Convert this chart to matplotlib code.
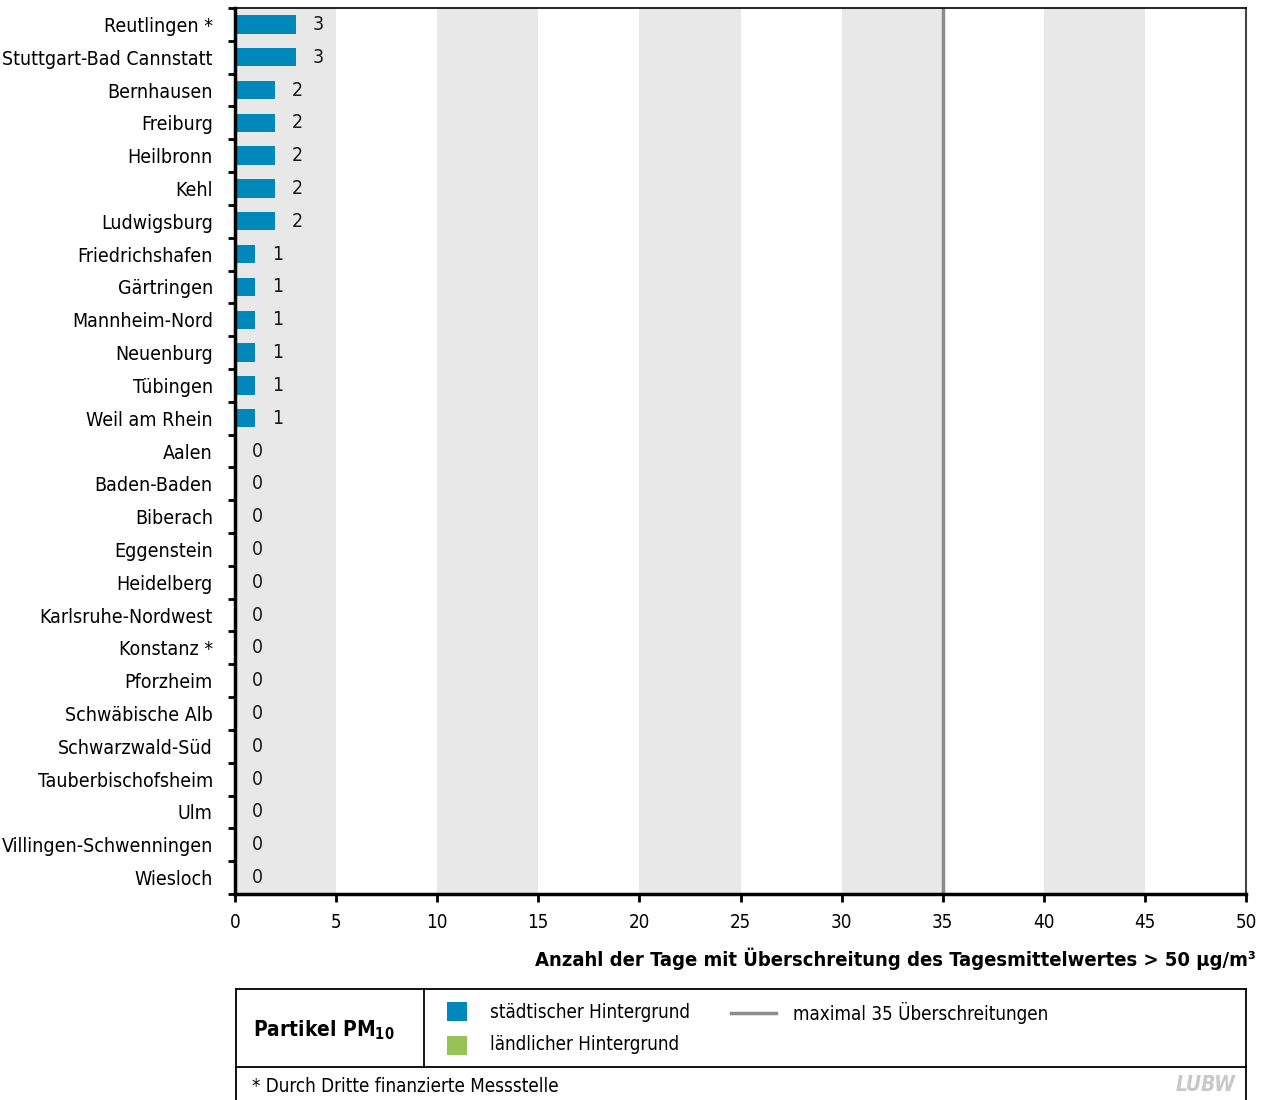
import matplotlib
matplotlib.use("Agg")
import matplotlib.pyplot as plt
from matplotlib.patches import Rectangle
from matplotlib.lines import Line2D

plt.rcParams['font.family'] = ['DejaVu Sans']
plt.rcParams['font.stretch'] = 'condensed'

stations = [
    "Reutlingen *", "Stuttgart-Bad Cannstatt", "Bernhausen", "Freiburg", "Heilbronn",
    "Kehl", "Ludwigsburg", "Friedrichshafen", "Gärtringen", "Mannheim-Nord",
    "Neuenburg", "Tübingen", "Weil am Rhein", "Aalen", "Baden-Baden", "Biberach",
    "Eggenstein", "Heidelberg", "Karlsruhe-Nordwest", "Konstanz *", "Pforzheim",
    "Schwäbische Alb", "Schwarzwald-Süd", "Tauberbischofsheim", "Ulm",
    "Villingen-Schwenningen", "Wiesloch",
]
days = [3, 3, 2, 2, 2, 2, 2, 1, 1, 1, 1, 1, 1, 0, 0, 0, 0, 0, 0, 0, 0, 0, 0, 0, 0, 0, 0]
limit = 35
x_ticks = [0, 5, 10, 15, 20, 25, 30, 35, 40, 45, 50]

BLUE = "#0088bb"
GREEN = "#95c356"
BAND = "#e8e8e8"
LIMIT_GREY = "#8c8c8c"

W, H = 1266, 1100
fig = plt.figure(figsize=(W / 100, H / 100), dpi=100)

def fx(px):
    return px / W

def fy(py):
    return 1 - py / H

ax = fig.add_axes([fx(235), fy(894), fx(1246) - fx(235), fy(8) - fy(894)])
n = len(stations)
ypos = list(range(n))

# alternating grey bands every 5 days
for start in range(0, 50, 10):
    ax.axvspan(start, start + 5, color=BAND, lw=0, zorder=0)

ax.axvline(limit, color=LIMIT_GREY, lw=2.5, zorder=1)
ax.barh(ypos, days, height=0.56, color=BLUE, zorder=2)
for y, v in zip(ypos, days):
    ax.text(v + 1.1, y, str(v), ha="center", va="center", fontsize=14, color="#1a1a1a")

ax.set_xlim(0, 50)
ax.set_ylim(n - 0.5, -0.5)
ax.set_xticks(x_ticks)
ax.set_xticklabels([str(t) for t in x_ticks], fontsize=13.5)
ax.set_yticks(ypos)
ax.set_yticklabels(stations, fontsize=14)
ax.tick_params(axis="y", which="major", length=0, pad=16)
ax.set_yticks([i - 0.5 for i in range(n + 1)], minor=True)
ax.tick_params(axis="y", which="minor", length=5, width=2, color="black")
ax.tick_params(axis="x", which="major", length=6, width=2, pad=8)

ax.spines["left"].set_linewidth(2.5)
ax.spines["bottom"].set_linewidth(2.5)
ax.spines["top"].set_linewidth(1.2)
ax.spines["right"].set_linewidth(1.5)
ax.spines["right"].set_color("#444444")

fig.text(fx(1256), fy(959), "Anzahl der Tage mit Überschreitung des Tagesmittelwertes > 50 µg/m³",
         ha="right", va="center", fontsize=14.5, fontweight="bold")

# legend box
lw_box = 1.3
fig.add_artist(Line2D([fx(236), fx(1246)], [fy(989), fy(989)], color="black", lw=lw_box))
fig.add_artist(Line2D([fx(236), fx(1246)], [fy(1067), fy(1067)], color="black", lw=lw_box))
fig.add_artist(Line2D([fx(236), fx(236)], [fy(989), fy(1100)], color="black", lw=lw_box))
fig.add_artist(Line2D([fx(1246), fx(1246)], [fy(989), fy(1100)], color="black", lw=lw_box))
fig.add_artist(Line2D([fx(424), fx(424)], [fy(989), fy(1067)], color="black", lw=lw_box))

fig.text(fx(253), fy(1030), r"Partikel PM$_\mathbf{10}$", ha="left", va="center",
         fontsize=15, fontweight="bold")

fig.add_artist(Rectangle((fx(447), fy(1021)), fx(20), fy(1002) - fy(1021), color=BLUE, lw=0))
fig.add_artist(Rectangle((fx(447), fy(1055)), fx(20), fy(1036) - fy(1055), color=GREEN, lw=0))
fig.text(fx(490), fy(1013), "städtischer Hintergrund", ha="left", va="center", fontsize=13.5)
fig.text(fx(490), fy(1045), "ländlicher Hintergrund", ha="left", va="center", fontsize=13.5)
fig.add_artist(Line2D([fx(731), fx(776)], [fy(1013), fy(1013)], color=LIMIT_GREY, lw=2.5))
fig.text(fx(793), fy(1013), "maximal 35 Überschreitungen", ha="left", va="center", fontsize=13.5)

fig.text(fx(252), fy(1086), "* Durch Dritte finanzierte Messstelle", ha="left", va="center", fontsize=13.5)
fig.text(fx(1236), fy(1085), "LUBW", ha="right", va="center", fontsize=15,
         fontweight="bold", style="italic", color="#c8c8c8")

fig.savefig("out.png", dpi=100)
